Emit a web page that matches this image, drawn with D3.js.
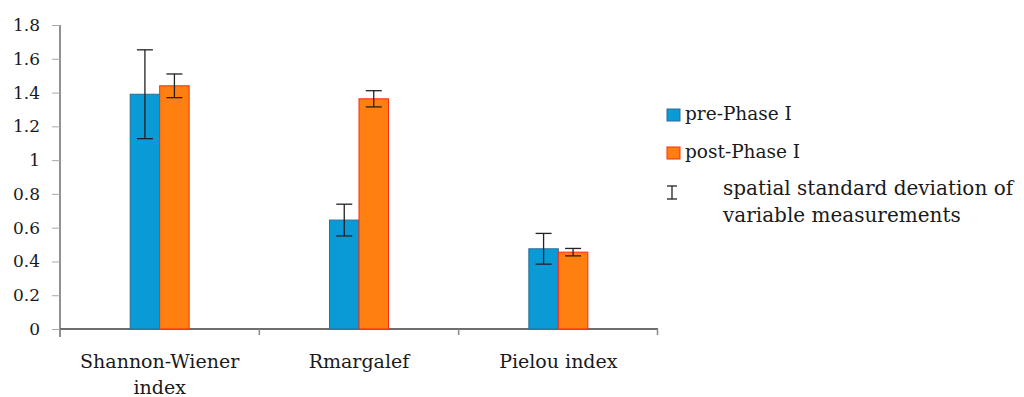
<!DOCTYPE html>
<html>
<head>
<meta charset="utf-8">
<script src="https://cdn.jsdelivr.net/npm/d3@7"></script>
<style>
  body { margin: 0; background: #fff; }
  svg text { font-family: "DejaVu Serif", serif !important; fill: #1a1a1a; }
</style>
</head>
<body>
<script>
'use strict';

// categories and the two series
var categories = [["Shannon-Wiener", "index"], ["Rmargalef"], ["Pielou index"]];
var seriesNames = ["pre-Phase I", "post-Phase I"];
var preValues  = [1.39, 0.645, 0.475];
var postValues = [1.44, 1.363, 0.455];
var preSd      = [0.263, 0.094, 0.091];
var postSd     = [0.07, 0.048, 0.022];
var yTicks     = [0, 0.2, 0.4, 0.6, 0.8, 1, 1.2, 1.4, 1.6, 1.8];
var errLegend  = ["spatial standard deviation of", "variable measurements"];

var fills   = ["#0a9bd6", "#ff7f10"];
var strokes = ["#2a6f94", "#ff2a10"];

var width = 1024, height = 397;
var margin = {left: 60, top: 25};
var plotW = 598, plotH = 304;

var svg = d3.select("body").append("svg")
    .attr("width", width)
    .attr("height", height);

var g = svg.append("g")
    .attr("transform", "translate(" + margin.left + "," + margin.top + ")");

var x = d3.scaleBand().domain(d3.range(categories.length)).range([0, plotW]);
var y = d3.scaleLinear().domain([0, 1.8]).range([plotH, 0]);
var barW = 29.5;

// y axis
var yAxis = g.append("g")
    .call(d3.axisLeft(y).tickValues(yTicks).tickSize(8).tickPadding(12)
        .tickFormat(function(d) { return String(+d.toFixed(1)); }));
yAxis.attr("font-family", null);
yAxis.select(".domain").attr("stroke", "#222").attr("d", "M0,0V" + (plotH + 8));
yAxis.selectAll(".tick line").attr("stroke", "#aaa");
yAxis.selectAll(".tick text").style("font-size", "17px").attr("fill", "#1a1a1a");

// x axis line with category separators
var xg = g.append("g").attr("transform", "translate(0," + plotH + ")");
xg.append("line").attr("x1", 0).attr("x2", plotW)
    .attr("stroke", "#6e6e6e").attr("stroke-width", 2);
xg.selectAll(".sep").data(d3.range(1, categories.length + 1)).enter()
    .append("line")
    .attr("x1", function(d) { return d === categories.length ? plotW - 0.5 : x(d); })
    .attr("x2", function(d) { return d === categories.length ? plotW - 0.5 : x(d); })
    .attr("y1", 0).attr("y2", 6)
    .attr("stroke", "#888").attr("stroke-width", 1.5);

// bars
var series = [preValues, postValues];
var sds = [preSd, postSd];
series.forEach(function(vals, s) {
    g.selectAll(".bar" + s).data(vals).enter()
        .append("rect")
        .attr("x", function(d, i) { return x(i) + x.bandwidth() / 2 - barW + s * barW; })
        .attr("y", function(d) { return y(d); })
        .attr("width", barW)
        .attr("height", function(d) { return plotH - y(d); })
        .attr("fill", fills[s])
        .attr("stroke", strokes[s])
        .attr("stroke-width", 1);
});

// error bars
series.forEach(function(vals, s) {
    vals.forEach(function(v, i) {
        var cx = x(i) + x.bandwidth() / 2 - barW / 2 + s * barW;
        var e = g.append("g").attr("stroke", "#222").attr("stroke-width", 1.3);
        e.append("line").attr("x1", cx).attr("x2", cx)
            .attr("y1", y(v + sds[s][i])).attr("y2", y(v - sds[s][i]));
        [v + sds[s][i], v - sds[s][i]].forEach(function(t) {
            e.append("line").attr("x1", cx - 8).attr("x2", cx + 8)
                .attr("y1", y(t)).attr("y2", y(t));
        });
    });
});

// category labels
categories.forEach(function(lines, i) {
    var t = g.append("text")
        .attr("x", x(i) + x.bandwidth() / 2)
        .attr("y", plotH + 39)
        .attr("text-anchor", "middle")
        .style("font-size", "19px");
    lines.forEach(function(l, k) {
        t.append("tspan").attr("x", x(i) + x.bandwidth() / 2)
            .attr("dy", k === 0 ? 0 : 26).text(l);
    });
});

// legend
var lg = svg.append("g");
seriesNames.forEach(function(n, s) {
    var ly = 109 + s * 38;
    lg.append("rect").attr("x", 667).attr("y", ly).attr("width", 13).attr("height", 12)
        .attr("fill", fills[s]).attr("stroke", strokes[s]);
    lg.append("text").attr("x", 685).attr("y", ly + 11).style("font-size", "18.5px").text(n);
});
var eg = lg.append("g").attr("stroke", "#222").attr("stroke-width", 1.3);
eg.append("line").attr("x1", 672).attr("x2", 672).attr("y1", 186).attr("y2", 199);
eg.append("line").attr("x1", 667).attr("x2", 677).attr("y1", 186).attr("y2", 186);
eg.append("line").attr("x1", 667).attr("x2", 677).attr("y1", 199).attr("y2", 199);
errLegend.forEach(function(l, k) {
    lg.append("text").attr("x", 723).attr("y", 195 + k * 27).style("font-size", "20px").text(l);
});
</script>
</body>
</html>
